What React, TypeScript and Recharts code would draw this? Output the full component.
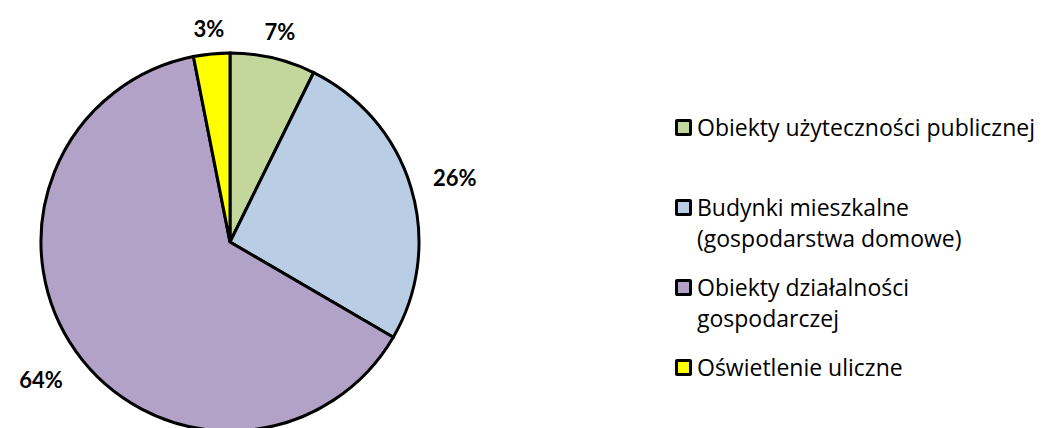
import React from "react";
import { PieChart, Pie, Cell, Legend } from "recharts";

const categories = [
  "Obiekty użyteczności publicznej",
  "Budynki mieszkalne (gospodarstwa domowe)",
  "Obiekty działalności gospodarczej",
  "Oświetlenie uliczne",
];
const legendLines = [
  ["Obiekty użyteczności publicznej"],
  ["Budynki mieszkalne", "(gospodarstwa domowe)"],
  ["Obiekty działalności", "gospodarczej"],
  ["Oświetlenie uliczne"],
];
const values = [7.3, 26.1, 63.5, 3.1];
const colors = ["#C3D69B", "#B9CDE5", "#B3A2C7", "#FFFF00"];

const data = categories.map((name, i) => ({ name, value: values[i] }));

const RADIAN = Math.PI / 180;
const FONT = "Lato, 'Noto Sans', sans-serif";
const LEGEND_FONT = "'Open Sans', 'Noto Sans', sans-serif";

const renderLabel = (props: any) => {
  const { cx, cy, midAngle, outerRadius, percent } = props;
  const text = `${Math.round(percent * 100)}%`;
  const w = text.length * 13;
  const cos = Math.cos(-midAngle * RADIAN);
  const sin = Math.sin(-midAngle * RADIAN);
  const r = outerRadius + 27 + (w / 2) * Math.abs(cos);
  const x = cx + r * cos;
  const y = cy + r * sin + 3;
  return (
    <text
      x={x}
      y={y}
      textAnchor="middle"
      dominantBaseline="central"
      fontFamily={FONT}
      fontWeight="bold"
      fontSize={22}
      fill="#000"
    >
      {text}
    </text>
  );
};

const LegendContent = () => (
  <div style={{ fontFamily: LEGEND_FONT, fontSize: 23, color: "#000", lineHeight: "31.5px" }}>
    {legendLines.map((lines, i) => (
      <div
        key={i}
        style={{ display: "flex", alignItems: "flex-start", marginBottom: i === 0 ? 48 : 17 }}
      >
        <div
          style={{
            boxSizing: "border-box",
            width: 17,
            height: 17,
            border: "3px solid #000",
            borderRadius: 2,
            background: colors[i],
            marginTop: 7,
            marginRight: 5,
            flexShrink: 0,
          }}
        />
        <div>
          {lines.map((l, j) => (
            <div key={j} style={{ whiteSpace: "nowrap" }}>{l}</div>
          ))}
        </div>
      </div>
    ))}
  </div>
);

export default function App() {
  return (
    <div style={{ position: "absolute", left: 0, top: 0, width: 1043, height: 428, background: "#fff" }}>
      <PieChart width={1043} height={428} margin={{ top: 0, right: 0, bottom: 0, left: 0 }}>
        <Pie
          data={data}
          dataKey="value"
          nameKey="name"
          cx={230}
          cy={242}
          outerRadius={189}
          startAngle={90}
          endAngle={-270}
          stroke="#000"
          strokeWidth={3}
          label={renderLabel}
          labelLine={false}
          isAnimationActive={false}
        >
          {data.map((d, i) => (
            <Cell key={d.name} fill={colors[i]} />
          ))}
        </Pie>
        <Legend
          content={<LegendContent />}
          wrapperStyle={{ position: "absolute", left: 675, top: 112, width: 368 }}
        />
      </PieChart>
    </div>
  );
}
